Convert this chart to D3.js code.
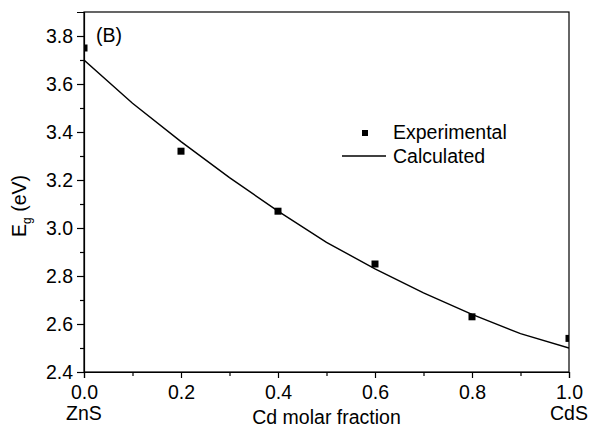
<!DOCTYPE html>
<html>
<head>
<meta charset="utf-8">
<script src="https://cdn.jsdelivr.net/npm/d3@7"></script>
<style>
  body { margin: 0; background: #fff; }
  text { font-family: "Liberation Sans", Arial, sans-serif; fill: #000; }
</style>
</head>
<body>
<div class="chart"></div>
<script>
// データ
const expX = [0.0, 0.2, 0.4, 0.6, 0.8, 1.0];
const expEg = [3.75, 3.32, 3.07, 2.85, 2.63, 2.54];
const calcX = [0.0, 0.1, 0.2, 0.3, 0.4, 0.5, 0.6, 0.7, 0.8, 0.9, 1.0];
const calcEg = [3.70, 3.52, 3.36, 3.21, 3.07, 2.94, 2.83, 2.73, 2.64, 2.56, 2.50];
const xTicks = [0.0, 0.2, 0.4, 0.6, 0.8, 1.0];
const yTicks = [2.4, 2.6, 2.8, 3.0, 3.2, 3.4, 3.6, 3.8];
const legendItems = ["Experimental", "Calculated"];

const W = 592, H = 429;
const margin = { top: 12, right: 23, bottom: 57, left: 84 };
const width = W - margin.left - margin.right;
const height = H - margin.top - margin.bottom;
const fs = "19.5px";

const svg = d3.select(".chart").append("svg")
    .attr("width", W).attr("height", H);
const g = svg.append("g")
    .attr("transform", `translate(${margin.left},${margin.top})`);

// スケール
const x = d3.scaleLinear().domain([0, 1]).range([0, width]);
const y = d3.scaleLinear().domain([2.4, 3.9]).range([height, 0]);

g.append("defs").append("clipPath").attr("id", "clip")
    .append("rect").attr("width", width).attr("height", height);

// 軸 (主目盛り)
const xAxis = g.append("g")
    .attr("transform", `translate(0,${height})`)
    .call(d3.axisBottom(x).tickValues(xTicks).tickSize(6).tickPadding(7).tickFormat(d3.format(".1f")));
const yAxis = g.append("g")
    .call(d3.axisLeft(y).tickValues(yTicks).tickSize(7).tickPadding(4).tickFormat(d3.format(".1f")));

// 副目盛り
g.append("g")
    .attr("transform", `translate(0,${height})`)
    .call(d3.axisBottom(x).tickValues(d3.range(0.1, 1, 0.2)).tickSize(4).tickFormat(""))
    .call(a => a.select(".domain").remove());
g.append("g")
    .call(d3.axisLeft(y).tickValues(d3.range(2.5, 3.9, 0.2)).tickSize(4).tickFormat(""))
    .call(a => a.select(".domain").remove());

g.selectAll(".tick line").attr("stroke", "#000").attr("stroke-width", 1.2);
g.selectAll(".domain").attr("stroke-width", 1.2);
[xAxis, yAxis].forEach(a => a.selectAll("text")
    .style("font-size", fs)
    .style("font-family", "'Liberation Sans', Arial, sans-serif"));

// 枠
g.append("rect")
    .attr("width", width).attr("height", height)
    .attr("fill", "none").attr("stroke", "#000").attr("stroke-width", 1.2);

// 計算値の線
const line = d3.line().x((d, i) => x(calcX[i])).y(d => y(d));
g.append("path")
    .datum(calcEg)
    .attr("clip-path", "url(#clip)")
    .attr("d", line)
    .attr("fill", "none")
    .attr("stroke", "#000")
    .attr("stroke-width", 1.4);

// 実験値
const ms = 7;
g.append("g").attr("clip-path", "url(#clip)")
    .selectAll("rect")
    .data(expEg)
    .enter().append("rect")
    .attr("x", (d, i) => x(expX[i]) - ms / 2)
    .attr("y", d => y(d) - ms / 2)
    .attr("width", ms).attr("height", ms)
    .attr("fill", "#000");

// 凡例
const lg = svg.append("g");
lg.append("rect").attr("x", 362).attr("y", 130).attr("width", 6).attr("height", 6).attr("fill", "#000");
lg.append("line").attr("x1", 342).attr("x2", 386).attr("y1", 156).attr("y2", 156)
    .attr("stroke", "#000").attr("stroke-width", 1.4);
lg.selectAll("text").data(legendItems).enter().append("text")
    .attr("x", 393)
    .attr("y", (d, i) => 139 + i * 24)
    .style("font-size", fs)
    .text(d => d);

// ラベル
svg.append("text").attr("x", 96).attr("y", 42).style("font-size", fs).text("(B)");

svg.append("text")
    .attr("x", margin.left + width / 2).attr("y", 424)
    .attr("text-anchor", "middle").style("font-size", fs)
    .text("Cd molar fraction");
svg.append("text").attr("x", margin.left).attr("y", 420)
    .attr("text-anchor", "middle").style("font-size", fs).text("ZnS");
svg.append("text").attr("x", margin.left + width).attr("y", 420)
    .attr("text-anchor", "middle").style("font-size", fs).text("CdS");

const yl = svg.append("text")
    .attr("transform", "translate(26,206) rotate(-90)")
    .attr("text-anchor", "middle").style("font-size", fs);
yl.append("tspan").text("E");
yl.append("tspan").attr("dy", 5).style("font-size", "12px").text("g");
yl.append("tspan").attr("dy", -5).text(" (eV)");
</script>
</body>
</html>
